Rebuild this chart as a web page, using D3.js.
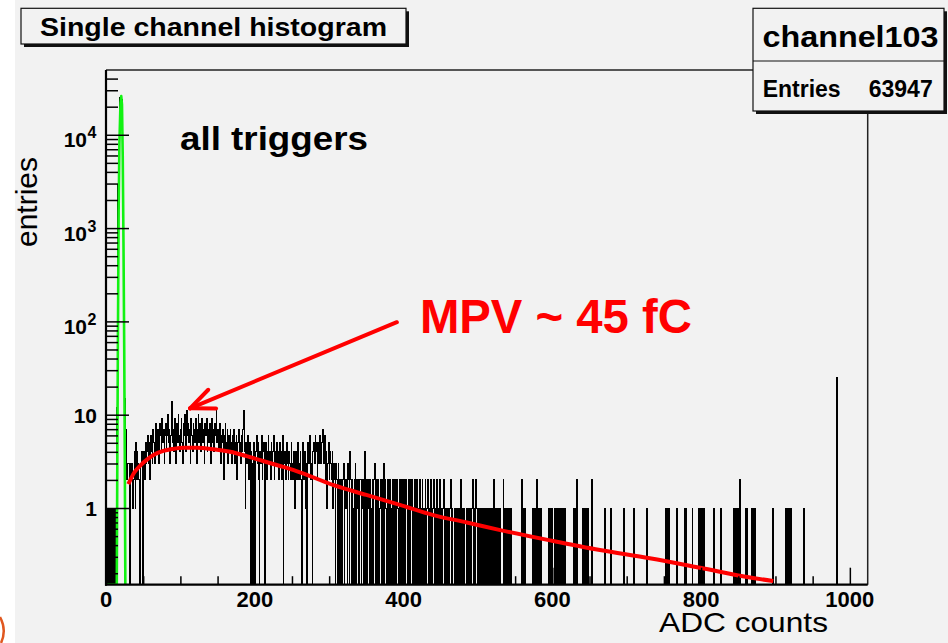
<!DOCTYPE html>
<html>
<head>
<meta charset="utf-8">
<script src="https://cdn.jsdelivr.net/npm/d3@7"></script>
<style>
  body { margin: 0; background: #f2f2f2; }
  svg { display: block; }
  text { font-family: "Liberation Sans", Arial, Helvetica, sans-serif; }
</style>
</head>
<body>
<svg id="chart" width="948" height="643"></svg>
<script>
// ---- histogram contents: entries per ADC count (1 ADC per bin) ----
const pedestalCounts = [ // ADC 0-29
  1, 0, 1, 1, 0, 1, 0, 1, 1, 0,
  1, 0, 1, 0, 12, 2800, 2900, 3100, 25000, 26000,
  25500, 24000, 5000, 480, 60, 15, 7, 3, 2, 3
];
const counts30to129 = [
  3, 2, 0, 3, 2, 3, 1, 2, 4, 1,
  5, 2, 4, 3, 2, 0, 1, 3, 4, 0,
  3, 4, 2, 5, 3, 4, 6, 3, 5, 2,
  6, 4, 3, 7, 5, 3, 6, 8, 4, 7,
  5, 3, 8, 6, 4, 9, 5, 7, 3, 6,
  8, 4, 6, 10, 5, 7, 3, 6, 14, 5,
  7, 4, 9, 6, 3, 8, 5, 10, 6, 4,
  7, 9, 5, 3, 8, 6, 10, 4, 11, 6,
  8, 5, 7, 3, 9, 6, 4, 8, 7, 5,
  9, 6, 3, 7, 10, 5, 8, 4, 6, 9
];
const counts130to229 = [
  5, 7, 3, 8, 6, 9, 4, 7, 5, 8,
  6, 3, 9, 5, 7, 4, 8, 6, 11, 5,
  7, 4, 6, 8, 3, 6, 5, 7, 2, 6,
  8, 4, 5, 7, 3, 6, 4, 7, 5, 3,
  6, 4, 7, 3, 5, 6, 2, 5, 7, 4,
  5, 3, 6, 4, 7, 11, 4, 1, 5, 3,
  6, 4, 2, 5, 0, 4, 3, 0, 5, 2,
  0, 4, 6, 3, 5, 2, 0, 4, 3, 6,
  2, 4, 5, 0, 3, 5, 2, 4, 6, 3,
  4, 2, 5, 3, 4, 6, 2, 4, 3, 5
];
const counts230to329 = [
  3, 4, 2, 5, 3, 4, 2, 6, 0, 3,
  4, 2, 3, 5, 3, 2, 4, 3, 2, 5,
  3, 2, 4, 3, 1, 4, 2, 3, 5, 2,
  3, 4, 2, 0, 5, 3, 2, 4, 1, 3,
  0, 5, 3, 4, 6, 2, 3, 0, 4, 5,
  3, 6, 4, 5, 2, 5, 3, 6, 4, 3,
  5, 7, 4, 3, 6, 2, 4, 1, 3, 5,
  2, 4, 3, 2, 4, 1, 3, 2, 0, 3,
  2, 0, 3, 2, 0, 2, 1, 0, 2, 3,
  0, 2, 1, 2, 0, 3, 2, 0, 4, 2
];
const counts330to429 = [
  0, 2, 1, 0, 2, 3, 0, 2, 1, 2,
  0, 2, 2, 0, 1, 2, 0, 2, 4, 0,
  2, 0, 1, 2, 0, 2, 1, 0, 2, 0,
  2, 3, 0, 2, 0, 2, 2, 0, 1, 2,
  0, 2, 0, 3, 0, 2, 1, 0, 2, 0,
  2, 0, 2, 1, 0, 2, 0, 2, 0, 2,
  0, 2, 1, 0, 2, 0, 2, 0, 1, 2,
  0, 2, 0, 2, 1, 0, 2, 0, 2, 0,
  1, 2, 0, 1, 0, 2, 0, 1, 2, 0,
  1, 0, 2, 0, 1, 2, 0, 1, 0, 2
];
const counts430to499 = [
  0, 1, 2, 0, 1, 0, 2, 1, 0, 1,
  2, 0, 1, 0, 2, 1, 0, 1, 0, 2,
  0, 1, 0, 1, 2, 0, 1, 0, 1, 0,
  1, 0, 1, 2, 0, 1, 0, 0, 1, 0,
  1, 0, 0, 1, 0, 1, 0, 2, 0, 1,
  0, 1, 0, 0, 1, 0, 1, 0, 0, 1,
  0, 0, 1, 2, 0, 1, 0, 2, 1, 0
];
// sparse tail above ADC 500: [ADC, entries]
const tailBins = [
  [501, 1], [503, 1], [505, 1], [507, 1], [508, 1], [510, 1], [512, 1], [514, 1],
  [516, 1], [518, 1], [521, 2], [523, 1], [525, 1], [527, 1], [529, 1],
  [534, 2], [536, 1], [538, 1], [540, 1], [542, 1], [544, 1],
  [559, 2], [561, 1], [563, 1],
  [574, 1], [576, 1], [577, 1], [579, 2], [581, 1], [583, 1], [585, 1],
  [595, 1], [597, 1], [599, 1], [603, 1], [605, 1], [607, 1], [609, 1],
  [611, 1], [613, 1], [615, 1], [617, 1],
  [629, 1], [631, 1], [633, 2],
  [641, 1], [643, 1], [645, 1], [647, 1], [653, 2],
  [670, 1], [678, 1], [696, 1], [709, 1], [727, 1],
  [752, 1], [754, 1], [756, 1], [767, 1], [778, 1], [780, 1], [788, 1],
  [797, 1], [799, 1], [801, 1], [803, 1], [817, 1], [826, 1],
  [844, 1], [846, 1], [848, 1], [850, 1], [852, 2], [860, 1], [862, 1],
  [868, 1], [870, 1], [872, 1], [896, 1],
  [913, 1], [915, 1], [917, 1], [919, 1], [921, 1], [938, 1], [982, 25]
];

// ---- fitted curves, sampled as [ADC, entries] ----
const gausFit = [
  [0, 0.15], [14.5, 0.15], [15.2, 3], [16, 60], [17, 1500], [18, 8000],
  [19.5, 22000], [20.5, 26000], [21.5, 21000], [22.5, 6000], [23.5, 700],
  [24.5, 50], [25.3, 3], [26, 0.15]
];
const landauFit = [
  [30, 1.8], [38, 2.4], [46, 2.85], [55, 3.3], [65, 3.75], [77, 4.1],
  [90, 4.3], [105, 4.42], [122, 4.42], [144, 4.27], [167, 4.0], [189, 3.6],
  [211, 3.19], [234, 2.82], [256, 2.49], [306, 1.76], [350, 1.38], [395, 1.08],
  [440, 0.84], [485, 0.7], [530, 0.58], [597, 0.45], [664, 0.355], [731, 0.29],
  [799, 0.229], [866, 0.18], [897, 0.165]
];

// ---- axes ----
const xMajorTicks = [0, 200, 400, 600, 800, 1000];
const xMinorTicks = [50, 100, 150, 250, 300, 350, 450, 500, 550, 650, 700, 750, 850, 900, 950];
const yDecades = [1, 10, 100, 1000, 10000];
const yDecadeLabels = [["1", ""], ["10", ""], ["10", "2"], ["10", "3"], ["10", "4"]];

// annotation anchors in data coordinates
const arrowTip = [113, 11.7];
const arrowTail = [391, 98];
const mpvLabelAt = [422, 75];
const triggerLabelAt = [99.5, 6870];

// ---- assemble the 1024 bins ----
const nBins = 1024;
const counts = new Array(nBins).fill(0);
[[0, pedestalCounts], [30, counts30to129], [130, counts130to229],
 [230, counts230to329], [330, counts330to429], [430, counts430to499]]
  .forEach(([start, arr]) => arr.forEach((v, i) => { counts[start + i] = v; }));
tailBins.forEach(([adc, v]) => { counts[adc] = v; });

// ---- drawing ----
const W = 948, H = 643;
const frame = { left: 106, right: 867.7, top: 70, bottom: 584.7 };
const svg = d3.select("#chart");

const x = d3.scaleLinear().domain([0, 1024]).range([frame.left, frame.right]);
const y = d3.scaleLog().domain([0.1507, 49450]).range([frame.bottom, frame.top]);
const yMin = y.domain()[0];

svg.append("rect").attr("width", W).attr("height", H).attr("fill", "#f2f2f2");
svg.append("rect").attr("width", 15).attr("height", H).attr("fill", "#ffffff");
svg.append("path").attr("d", "M0,617 Q7,630 1,643")
  .attr("fill", "none").attr("stroke", "#e0571f").attr("stroke-width", 2.5);

svg.append("clipPath").attr("id", "plotClip")
  .append("rect")
  .attr("x", frame.left).attr("y", frame.top)
  .attr("width", frame.right - frame.left).attr("height", frame.bottom - frame.top);

const plot = svg.append("g").attr("clip-path", "url(#plotClip)");

// step histogram
const stepPts = [{ adc: 0, v: 0 }];
counts.forEach((v, i) => stepPts.push({ adc: i, v }));
stepPts.push({ adc: nBins, v: counts[nBins - 1] });
stepPts.push({ adc: nBins, v: 0 });
const histLine = d3.line()
  .curve(d3.curveStepAfter)
  .x(d => x(d.adc))
  .y(d => d.v > 0 ? y(d.v) : frame.bottom);
plot.append("path").attr("d", histLine(stepPts))
  .attr("fill", "none").attr("stroke", "#000").attr("stroke-width", 1)
  .attr("shape-rendering", "crispEdges");

// fitted functions
const fitLine = d3.line()
  .x(d => x(d[0]))
  .y(d => y(Math.max(d[1], yMin)));
plot.append("path").attr("d", fitLine(gausFit))
  .attr("fill", "none").attr("stroke", "#12f212").attr("stroke-width", 2.6)
  .attr("stroke-linejoin", "round");
plot.append("path").attr("d", fitLine.curve(d3.curveMonotoneX)(landauFit))
  .attr("fill", "none").attr("stroke", "#ff0000").attr("stroke-width", 4)
  .attr("stroke-linejoin", "round");

// tick marks
const yMinorTicks = [];
for (let e = -1; e <= 4; e++) {
  for (let m = 2; m <= 9; m++) {
    const v = m * Math.pow(10, e);
    if (v > yMin && v < y.domain()[1]) yMinorTicks.push(v);
  }
}
const gyMaj = svg.append("g").attr("transform", `translate(${frame.left},0)`)
  .call(d3.axisLeft(y).tickValues(yDecades).tickSize(-23).tickFormat(() => ""));
const gyMin = svg.append("g").attr("transform", `translate(${frame.left},0)`)
  .call(d3.axisLeft(y).tickValues(yMinorTicks).tickSize(-12).tickFormat(() => ""));
const gxMaj = svg.append("g").attr("transform", `translate(0,${frame.bottom})`)
  .call(d3.axisBottom(x).tickValues(xMajorTicks).tickSize(-17).tickFormat(() => ""));
const gxMin = svg.append("g").attr("transform", `translate(0,${frame.bottom})`)
  .call(d3.axisBottom(x).tickValues(xMinorTicks).tickSize(-8.5).tickFormat(() => ""));
[gyMaj, gyMin, gxMaj, gxMin].forEach(g => {
  g.select(".domain").remove();
  g.selectAll(".tick line").attr("stroke", "#000").attr("stroke-width", 1.5);
});

// frame
svg.append("line").attr("x1", frame.left).attr("x2", frame.right)
  .attr("y1", frame.top).attr("y2", frame.top).attr("stroke", "#222").attr("stroke-width", 1.5);
svg.append("line").attr("x1", frame.right).attr("x2", frame.right)
  .attr("y1", frame.top).attr("y2", frame.bottom).attr("stroke", "#222").attr("stroke-width", 1.5);
svg.append("line").attr("x1", frame.left).attr("x2", frame.left)
  .attr("y1", frame.top).attr("y2", frame.bottom + 1).attr("stroke", "#000").attr("stroke-width", 2.2);
svg.append("line").attr("x1", frame.left - 1).attr("x2", frame.right)
  .attr("y1", frame.bottom).attr("y2", frame.bottom).attr("stroke", "#000").attr("stroke-width", 2.2);

// tick labels
xMajorTicks.forEach(v => {
  svg.append("text").attr("x", x(v)).attr("y", 606.5)
    .attr("text-anchor", "middle").attr("font-size", 22).attr("font-weight", "bold")
    .text(v);
});
yDecades.forEach((v, i) => {
  const [base, exp] = yDecadeLabels[i];
  const ty = y(v);
  if (exp) {
    svg.append("text").attr("x", 87).attr("y", ty + 12.5)
      .attr("text-anchor", "end").attr("font-size", 21).attr("font-weight", "bold").text(base);
    svg.append("text").attr("x", 87.5).attr("y", ty + 3.5)
      .attr("font-size", 16).attr("font-weight", "bold").text(exp);
  } else {
    svg.append("text").attr("x", 97).attr("y", ty + 8)
      .attr("text-anchor", "end").attr("font-size", 21).attr("font-weight", "bold").text(base);
  }
});

// axis titles
svg.append("text").attr("transform", "translate(37,202) rotate(-90)")
  .attr("text-anchor", "middle").attr("font-size", 30).text("entries");
svg.append("text").attr("x", 828).attr("y", 632)
  .attr("text-anchor", "end").attr("font-size", 28)
  .attr("textLength", 169).attr("lengthAdjust", "spacingAndGlyphs").text("ADC counts");

// annotations
svg.append("text").attr("x", x(triggerLabelAt[0])).attr("y", y(triggerLabelAt[1]))
  .attr("font-size", 34).attr("font-weight", "bold")
  .attr("textLength", 188).attr("lengthAdjust", "spacingAndGlyphs").text("all triggers");
svg.append("text").attr("x", x(mpvLabelAt[0])).attr("y", y(mpvLabelAt[1]))
  .attr("font-size", 48).attr("font-weight", "bold").attr("fill", "#ff0000")
  .attr("textLength", 272).attr("lengthAdjust", "spacingAndGlyphs").text("MPV ~ 45 fC");

const tip = [x(arrowTip[0]), y(arrowTip[1])];
const tail = [x(arrowTail[0]), y(arrowTail[1])];
const ang = Math.atan2(tail[1] - tip[1], tail[0] - tip[0]);
const wing = 26, spread = 23 * Math.PI / 180;
const arrow = svg.append("g").attr("stroke", "#ff0000").attr("stroke-width", 4)
  .attr("stroke-linecap", "round").attr("fill", "none");
arrow.append("line").attr("x1", tail[0]).attr("y1", tail[1]).attr("x2", tip[0]).attr("y2", tip[1]);
[ang - spread, ang + spread].forEach(a => {
  arrow.append("line").attr("x1", tip[0]).attr("y1", tip[1])
    .attr("x2", tip[0] + wing * Math.cos(a)).attr("y2", tip[1] + wing * Math.sin(a));
});

// title box
const tb = { x: 21, y: 8.3, w: 385, h: 35.7 };
svg.append("rect").attr("x", tb.x + 3).attr("y", tb.y + 3).attr("width", tb.w).attr("height", tb.h).attr("fill", "#111");
svg.append("rect").attr("x", tb.x).attr("y", tb.y).attr("width", tb.w).attr("height", tb.h)
  .attr("fill", "#f2f2f2").attr("stroke", "#111").attr("stroke-width", 1.2);
svg.append("text").attr("x", tb.x + tb.w / 2).attr("y", 36).attr("text-anchor", "middle")
  .attr("font-size", 26).attr("font-weight", "bold")
  .attr("textLength", 347).attr("lengthAdjust", "spacingAndGlyphs").text("Single channel histogram");

// statistics box
const sb = { x: 753, y: 8.3, w: 191, h: 102.7, split: 61 };
svg.append("rect").attr("x", sb.x + 3).attr("y", sb.y + 3).attr("width", sb.w).attr("height", sb.h).attr("fill", "#111");
svg.append("rect").attr("x", sb.x).attr("y", sb.y).attr("width", sb.w).attr("height", sb.h)
  .attr("fill", "#f2f2f2").attr("stroke", "#111").attr("stroke-width", 1.2);
svg.append("line").attr("x1", sb.x).attr("x2", sb.x + sb.w).attr("y1", sb.split).attr("y2", sb.split)
  .attr("stroke", "#111").attr("stroke-width", 1.2);
svg.append("text").attr("x", sb.x + sb.w / 2 + 2).attr("y", 46.7).attr("text-anchor", "middle")
  .attr("font-size", 29).attr("font-weight", "bold")
  .attr("textLength", 176).attr("lengthAdjust", "spacingAndGlyphs").text("channel103");
svg.append("text").attr("x", 762.7).attr("y", 96.7)
  .attr("font-size", 23).attr("font-weight", "bold").text("Entries");
svg.append("text").attr("x", 932.7).attr("y", 96.7).attr("text-anchor", "end")
  .attr("font-size", 23).attr("font-weight", "bold").text("63947");
</script>
</body>
</html>
